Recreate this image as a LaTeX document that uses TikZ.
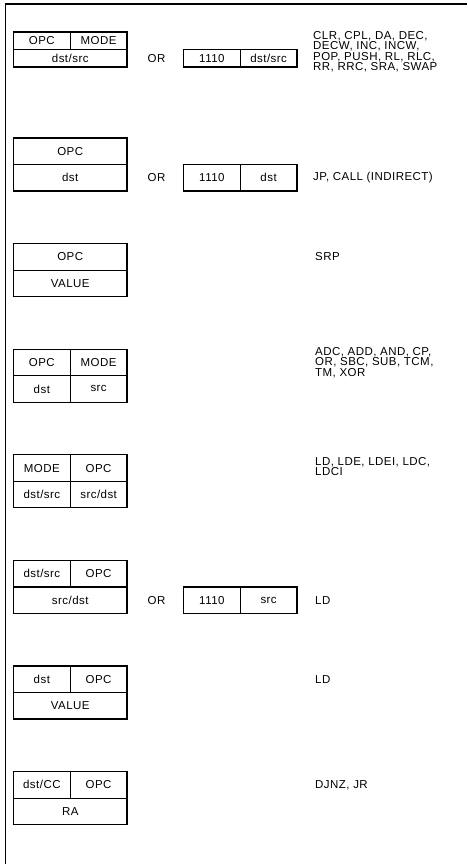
\documentclass[tikz,border=0pt]{standalone}
\usepackage{fontspec}
\setmainfont[LetterSpace=4]{Liberation Sans}
\usetikzlibrary{positioning}

\newcommand\figfont{\fontsize{11.5}{9.5}\selectfont}

\tikzset{
  cell/.style={draw, line width=1.2pt, outer sep=0pt, inner sep=0pt,
    minimum height=26.5pt, font=\figfont},
  halfcell/.style={cell, minimum width=56.75pt},
  fullcell/.style={cell, minimum width=113.5pt},
  flatcell/.style={minimum height=17.5pt},
  ortext/.style={inner sep=0pt, font=\figfont},
  optext/.style={anchor=west, align=left, inner sep=0pt, font=\figfont},
}

\begin{document}
\begin{tikzpicture}[x=1pt, y=-1pt]
  \useasboundingbox (0,0) rectangle (467,864);
  \draw[line width=1.4pt] (467,4) -- (5.5,4) -- (5.5,864);

  \node[halfcell, flatcell, anchor=north west] (opc1) at (13.5,32) {OPC};
  \node[halfcell, flatcell, right=0pt of opc1] (mode1) {MODE};
  \node[fullcell, flatcell, anchor=north west] (ds1) at (opc1.south west) {dst/src};
  \node[ortext] (or1) at (156.5,0 |- ds1) {OR};
  \node[halfcell, flatcell, anchor=west] (esc1) at (183.5,0 |- ds1) {1110};
  \node[halfcell, flatcell, right=0pt of esc1] (dsb1) {dst/src};
  \node[optext, anchor=north west] (ops1) at (313,31) {CLR, CPL, DA, DEC,\\DECW, INC, INCW,\\POP, PUSH, RL, RLC,\\RR, RRC, SRA, SWAP};

  \node[fullcell, anchor=north west] (opc2) at (13.5,138) {OPC};
  \node[fullcell, anchor=north west] (dst2) at (opc2.south west) {dst};
  \node[ortext] (or2) at (156.5,0 |- dst2) {OR};
  \node[halfcell, anchor=west] (esc2) at (183.5,0 |- dst2) {1110};
  \node[halfcell, right=0pt of esc2] (dstb2) {dst};
  \node[optext] (ops2) at (313,0 |- dst2) {JP, CALL (INDIRECT)};

  \node[fullcell, anchor=north west] (opc3) at (13.5,243.6) {OPC};
  \node[fullcell, anchor=north west] (val3) at (opc3.south west) {VALUE};
  \node[optext] (ops3) at (315,0 |- opc3) {SRP};

  \node[halfcell, anchor=north west] (opc4) at (13.5,349.2) {OPC};
  \node[halfcell, right=0pt of opc4] (mode4) {MODE};
  \node[halfcell, anchor=north west] (dst4) at (opc4.south west) {dst};
  \node[halfcell, right=0pt of dst4] (src4) {src};
  \node[optext, anchor=north west] (ops4) at (315,347) {ADC, ADD, AND, CP,\\OR, SBC, SUB, TCM,\\TM, XOR};

  \node[halfcell, anchor=north west] (mode5) at (13.5,454.8) {MODE};
  \node[halfcell, right=0pt of mode5] (opc5) {OPC};
  \node[halfcell, anchor=north west] (ds5) at (mode5.south west) {dst/src};
  \node[halfcell, right=0pt of ds5] (sd5) {src/dst};
  \node[optext, anchor=north west] (ops5) at (315,457) {LD, LDE, LDEI, LDC,\\LDCI};

  \node[halfcell, anchor=north west] (ds6) at (13.5,560.4) {dst/src};
  \node[halfcell, right=0pt of ds6] (opc6) {OPC};
  \node[fullcell, anchor=north west] (sd6) at (ds6.south west) {src/dst};
  \node[ortext] (or6) at (156.5,0 |- sd6) {OR};
  \node[halfcell, anchor=west] (esc6) at (183.5,0 |- sd6) {1110};
  \node[halfcell, right=0pt of esc6] (src6) {src};
  \node[optext] (ops6) at (315,0 |- sd6) {LD};

  \node[halfcell, anchor=north west] (dst7) at (13.5,666) {dst};
  \node[halfcell, right=0pt of dst7] (opc7) {OPC};
  \node[fullcell, anchor=north west] (val7) at (dst7.south west) {VALUE};
  \node[optext] (ops7) at (315,0 |- opc7) {LD};

  \node[halfcell, anchor=north west] (dcc8) at (13.5,771.6) {dst/CC};
  \node[halfcell, right=0pt of dcc8] (opc8) {OPC};
  \node[fullcell, anchor=north west] (ra8) at (dcc8.south west) {RA};
  \node[optext] (ops8) at (315,0 |- opc8) {DJNZ, JR};
\end{tikzpicture}
\end{document}
